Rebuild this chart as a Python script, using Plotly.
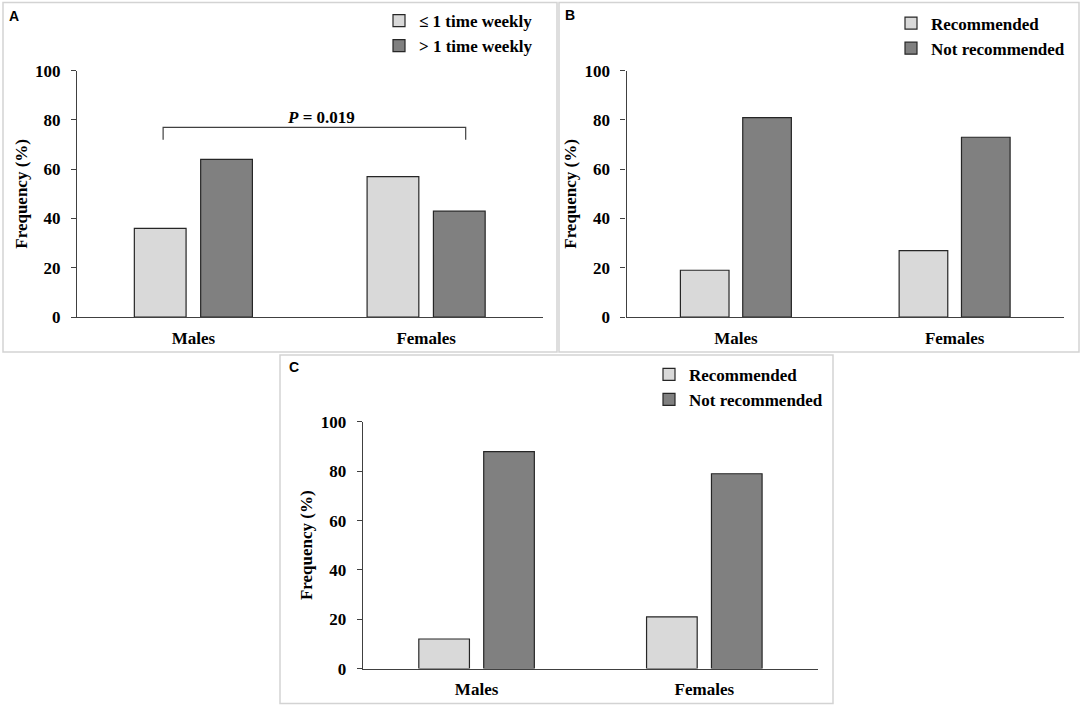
import plotly.graph_objects as go

# values (percent of each sex)
groups = ["Males", "Females"]

freq_names = ["≤ 1 time weekly", "> 1 time weekly"]
freq_low = [36, 57]
freq_high = [64, 43]

rec_names = ["Recommended", "Not recommended"]
b_rec = [19, 27]
b_not = [81, 73]
c_rec = [12, 21]
c_not = [88, 79]

p_text = "<i>P</i> = 0.019"

LIGHT = "#d9d9d9"
DARK = "#808080"
EDGE = "#262626"
AXIS = "#404040"
SERIF = "Liberation Serif"
W, H = 1084, 708


def px(x):
    return x / W


def py(y):
    # pixel row (from top) -> paper y; the screenshot shows the page
    # squeezed a little vertically, so undo that here
    return 1 - ((y - 8.5) / 0.9745) / H


def bar(name, x, y, color, xa, ya, legend):
    return go.Bar(
        name=name, x=x, y=y, xaxis=xa, yaxis=ya, legend=legend,
        marker=dict(color=color, line=dict(color=EDGE, width=1.2)),
        hoverinfo="x+y",
    )


fig = go.Figure([
    bar(freq_names[0], groups, freq_low, LIGHT, "x", "y", "legend"),
    bar(freq_names[1], groups, freq_high, DARK, "x", "y", "legend"),
    bar(rec_names[0], groups, b_rec, LIGHT, "x2", "y2", "legend2"),
    bar(rec_names[1], groups, b_not, DARK, "x2", "y2", "legend2"),
    bar(rec_names[0], groups, c_rec, LIGHT, "x3", "y3", "legend3"),
    bar(rec_names[1], groups, c_not, DARK, "x3", "y3", "legend3"),
])

bold = dict(family=SERIF, size=17, color="black", weight="bold")

xax = dict(
    showline=True, linecolor=AXIS, linewidth=1.2, ticks="",
    showgrid=False, zeroline=False, range=[-0.5, 1.5],
    tickfont=bold, ticklabelstandoff=5, fixedrange=True,
)
yax = dict(
    range=[0, 100], dtick=20, showline=True, linecolor=AXIS, linewidth=1.2,
    ticks="outside", ticklen=5, tickcolor=AXIS, showgrid=False, zeroline=False,
    tickfont=bold, ticklabelstandoff=7, fixedrange=True,
    title=dict(text="Frequency (%)", font=bold, standoff=3),
)

# panel layout in pixels: A top-left, B top-right, C bottom-centre
fig.update_layout(
    xaxis=dict(xax, domain=[px(77), px(542.5)], anchor="y"),
    yaxis=dict(yax, domain=[py(317), py(70.3)], anchor="x"),
    xaxis2=dict(xax, domain=[px(626.5), px(1064)], anchor="y2"),
    yaxis2=dict(yax, domain=[py(317), py(70.3)], anchor="x2"),
    xaxis3=dict(xax, domain=[px(362.7), px(818.2)], anchor="y3"),
    yaxis3=dict(yax, domain=[py(669), py(422)], anchor="x3"),
)

leg = dict(
    font=bold, itemwidth=30,
    bgcolor="rgba(0,0,0,0)", xanchor="left", yanchor="top",
    traceorder="normal", itemclick=False, itemdoubleclick=False,
)
fig.update_layout(
    legend=dict(leg, x=px(379), y=py(2.5)),
    legend2=dict(leg, x=px(891), y=py(5)),
    legend3=dict(leg, x=px(649), y=py(356.8)),
)

# light grey frame round each panel
frames = [(3, 2, 557, 352), (559, 2, 1079, 352), (280, 355, 833, 704)]
shapes = [
    dict(type="rect", xref="paper", yref="paper",
         x0=px(x0), x1=px(x1), y0=py(y1), y1=py(y0),
         line=dict(color="#d3d3d3", width=1.5), layer="below")
    for x0, y0, x1, y1 in frames
]
# significance bracket in panel A
shapes.append(dict(
    type="path", xref="x", yref="y",
    path="M -0.13,72 L -0.13,77 L 1.17,77 L 1.17,72",
    line=dict(color=AXIS, width=1.2),
))

annotations = [
    dict(text=p_text, xref="x", yref="y", x=0.55, y=81,
         showarrow=False, font=bold),
]
for letter, x, y in [("A", 13.5, 16), ("B", 570, 15), ("C", 294, 366.5)]:
    annotations.append(dict(
        text=letter, xref="paper", yref="paper", x=px(x), y=py(y),
        xanchor="center", yanchor="middle", showarrow=False,
        font=dict(family="Liberation Sans", size=14, color="black",
                  weight="bold"),
    ))

fig.update_layout(
    width=W, height=H, autosize=False,
    margin=dict(l=0, r=0, t=0, b=0),
    paper_bgcolor="white", plot_bgcolor="white",
    barmode="group", bargap=0.43, bargroupgap=0.22,
    shapes=shapes, annotations=annotations,
)

# pin the figure to the top-left corner of the window
pin = (
    "document.body.style.margin = '0';"
    "var d = document.getElementById('{plot_id}');"
    "d.style.position = 'fixed'; d.style.top = '0px'; d.style.left = '0px';"
)
fig.write_html("out.html", post_script=pin,
               config={"displayModeBar": False})
